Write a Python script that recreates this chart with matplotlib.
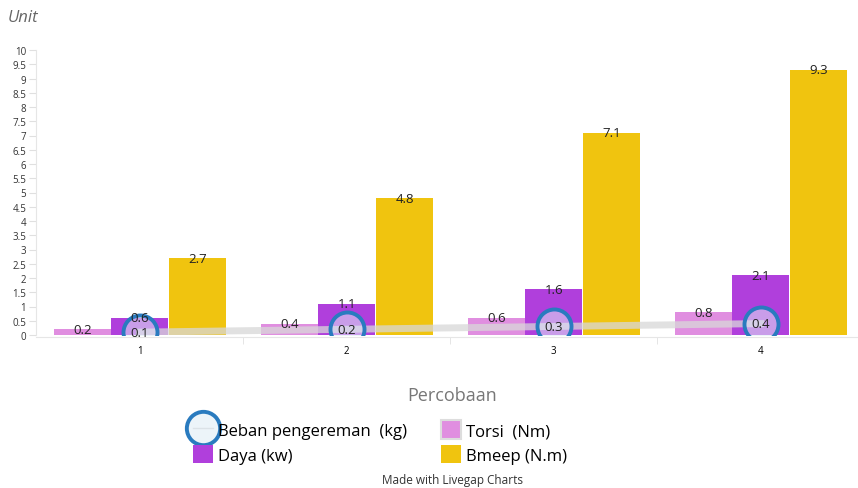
import matplotlib.pyplot as plt
from matplotlib.lines import Line2D
from matplotlib.patches import Patch
import numpy as np

plt.rcParams['font.family'] = ['Open Sans', 'DejaVu Sans']

# data
categories = ['1', '2', '3', '4']
beban = [0.1, 0.2, 0.3, 0.4]
torsi = [0.2, 0.4, 0.6, 0.8]
daya = [0.6, 1.1, 1.6, 2.1]
bmeep = [2.7, 4.8, 7.1, 9.3]
yticks = np.arange(0, 10.01, 0.5)

c_torsi = '#e08ee0'
c_daya = '#b03fdc'
c_bmeep = '#f0c40f'
c_edge = '#2a7bbf'
c_fill = (0.87, 0.92, 0.96, 0.55)

fig = plt.figure(figsize=(8.58, 4.89), dpi=100)
ax = fig.add_axes([36 / 858, 153 / 489, 822 / 858, 285 / 489])

x = np.arange(len(categories))
w = 0.275
ax.bar(x - w, torsi, w, color=c_torsi, zorder=2)
ax.bar(x, daya, w, color=c_daya, zorder=2)
ax.bar(x + w + 0.005, bmeep, w, color=c_bmeep, zorder=2)
ax.plot(x, beban, color='#d8d8d8', lw=5, alpha=0.75, zorder=3)
ax.scatter(x, beban, s=600, facecolor=c_fill, edgecolor=c_edge, linewidth=2.8,
           zorder=4)

for xs, vals in [(x - w, torsi), (x, daya), (x + w + 0.005, bmeep), (x, beban)]:
    for xi, v in zip(xs, vals):
        ax.text(xi, v, f'{v:g}', ha='center', va='center', fontsize=9.5,
                color='#222222', zorder=5)

ax.set_xlim(-0.5, 3.47)
ax.set_ylim(0, 10)
ax.set_yticks(yticks)
ax.set_yticklabels([f'{t:g}' for t in yticks], color='#333333')
ax.set_xticks(x)
ax.set_xticklabels(categories, color='#333333')
ax.set_xticks(x[:-1] + 0.5, minor=True)
ax.tick_params(axis='x', which='major', length=0, pad=6, labelsize=7)
ax.tick_params(axis='x', which='minor', length=5, color='#e0e0e0')
ax.tick_params(axis='y', length=5, color='#e0e0e0', pad=2, labelsize=7)
for s in ['top', 'right']:
    ax.spines[s].set_visible(False)
ax.spines['left'].set_color('#e6e6e6')
ax.spines['bottom'].set_color('#e6e6e6')
ax.spines['bottom'].set_position(('data', -0.07))

fig.text(8 / 858, 1 - 18 / 489, 'Unit', fontsize=12, style='italic',
         color='#666666', va='center')
fig.text(452 / 858, 1 - 396 / 489, 'Percobaan', fontsize=13, color='#777777',
         ha='center', va='center')
fig.text(452 / 858, 1 - 481 / 489, 'Made with Livegap Charts', fontsize=8.5,
         color='#333333', ha='center', va='center')

handles = [
    Line2D([], [], color='#d8d8d8', lw=1, marker='o', markersize=24,
           markerfacecolor=c_fill, markeredgecolor=c_edge, markeredgewidth=2.8),
    Patch(facecolor=c_daya),
    Patch(facecolor=c_torsi, edgecolor='#dddddd', linewidth=1.5),
    Patch(facecolor=c_bmeep),
]
labels = ['Beban pengereman  (kg)', 'Daya (kw)', 'Torsi  (Nm)', 'Bmeep (N.m)']
fig.legend(handles, labels, ncol=2, loc='center', bbox_to_anchor=(380 / 858, 1 - 443 / 489),
           frameon=False, fontsize=12, handlelength=1.2, handleheight=1.3,
           handletextpad=0.3, columnspacing=2.0, labelspacing=0.35)

fig.savefig('out.png', dpi=100)
